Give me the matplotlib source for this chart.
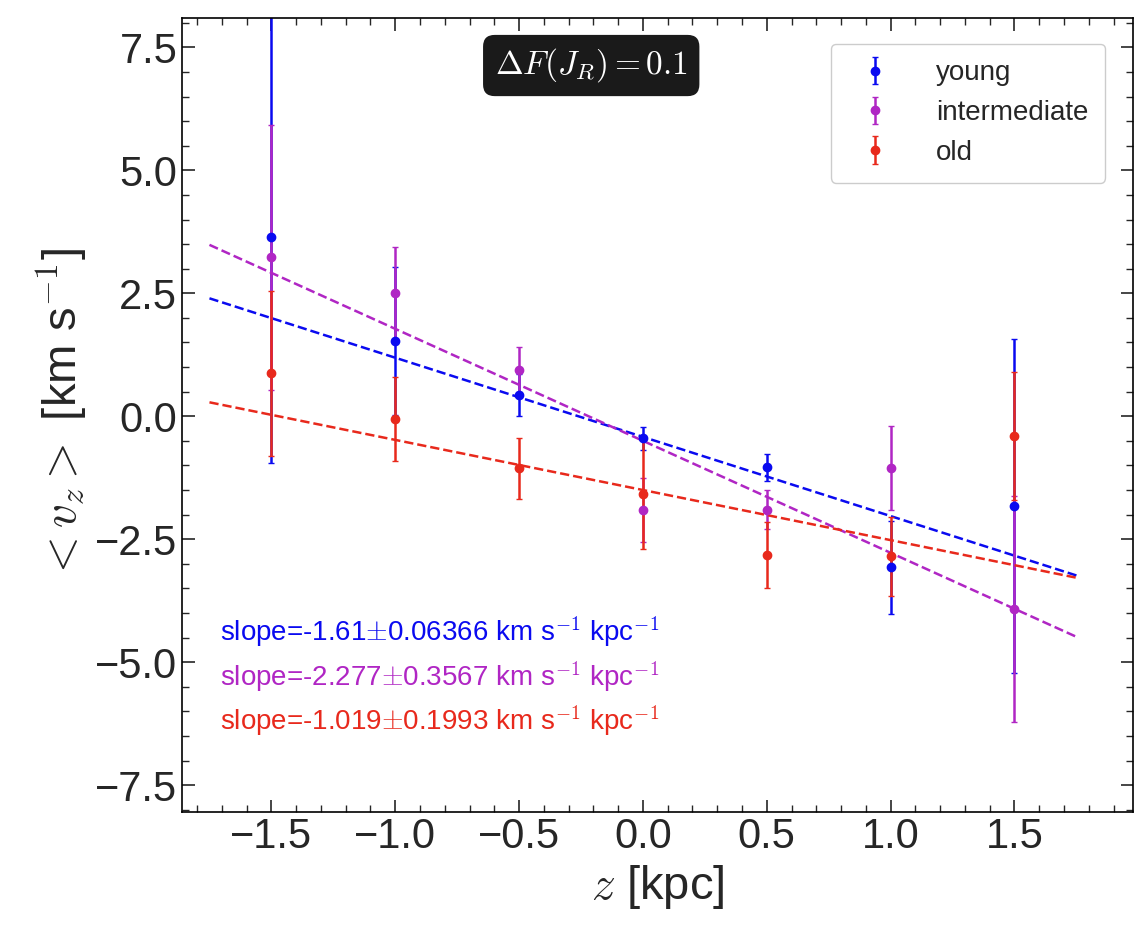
import matplotlib
matplotlib.use("Agg")
import matplotlib.pyplot as plt
from matplotlib.ticker import MultipleLocator
import numpy as np

plt.rcParams['font.family'] = ['Liberation Sans', 'DejaVu Sans']
plt.rcParams['mathtext.fontset'] = 'cm'
plt.rcParams['text.color'] = '#262626'
plt.rcParams['xtick.color'] = '#262626'
plt.rcParams['ytick.color'] = '#262626'
plt.rcParams['axes.labelcolor'] = '#262626'

z = [-1.5, -1.0, -0.5, 0.0, 0.5, 1.0, 1.5]
groups = ["young", "intermediate", "old"]
colors = ["#0a0af0", "#b026c4", "#e8291c"]
means = [
    [3.65, 1.53, 0.43, -0.45, -1.04, -3.07, -1.83],
    [3.23, 2.50, 0.95, -1.91, -1.90, -1.05, -3.92],
    [0.87, -0.05, -1.06, -1.59, -2.83, -2.85, -0.40],
]
errs = [
    [4.6, 1.5, 0.42, 0.23, 0.28, 0.95, 3.4],
    [2.7, 0.95, 0.45, 0.65, 0.40, 0.85, 2.3],
    [1.68, 0.85, 0.62, 1.1, 0.67, 0.80, 1.3],
]
slopes = [-1.61, -2.277, -1.019]
slope_errs = ["0.06366", "0.3567", "0.1993"]
intercepts = [-0.42, -0.50, -1.50]

fig, ax = plt.subplots(figsize=(11.46, 9.4), dpi=100)
xl = np.array([-1.75, 1.75])
for m, e, c, g, s, b in zip(means, errs, colors, groups, slopes, intercepts):
    ax.errorbar(z, m, yerr=e, fmt='o', color=c, ms=6, capsize=2, elinewidth=1.8, label=g)
    ax.plot(xl, s * xl + b, '--', color=c, lw=1.8)

for i, (s, se, c) in enumerate(zip(slopes, slope_errs, colors)):
    ax.text(0.04, 0.215 - i * 0.056,
            f"slope={s}$\\pm${se} km s$^{{-1}}$ kpc$^{{-1}}$",
            transform=ax.transAxes, color=c, fontsize=20)

ax.text(0.43, 0.94, r"$\Delta F(J_R) = 0.1$", transform=ax.transAxes,
        fontsize=24, color='white', ha='center', va='center',
        bbox=dict(boxstyle='round,pad=0.35', fc='#1a1a1a', ec='none'))

leg = ax.legend(loc='upper right', fontsize=20, frameon=True, borderpad=0.6,
                handletextpad=1.2, fancybox=True, framealpha=1,
                bbox_to_anchor=(0.985, 0.985))
leg.get_frame().set_edgecolor('#cccccc')

ax.set_xlim(-1.86, 1.98)
ax.set_ylim(-8.05, 8.1)
ax.xaxis.set_major_locator(MultipleLocator(0.5))
ax.xaxis.set_minor_locator(MultipleLocator(0.1))
ax.yaxis.set_major_locator(MultipleLocator(2.5))
ax.yaxis.set_minor_locator(MultipleLocator(0.5))
ax.tick_params(which='both', direction='in', top=True, right=True, labelsize=30)
ax.tick_params(which='major', length=9, width=1.2)
ax.tick_params(which='minor', length=5, width=1)
ax.set_xlabel(r"$z$ [kpc]", fontsize=34)
ax.set_ylabel(r"$<v_z>$ [km s$^{-1}$]", fontsize=34)
for sp in ax.spines.values():
    sp.set_linewidth(1.2)

fig.subplots_adjust(left=0.159, right=0.989, top=0.981, bottom=0.136)
fig.savefig("out.png", dpi=100)
